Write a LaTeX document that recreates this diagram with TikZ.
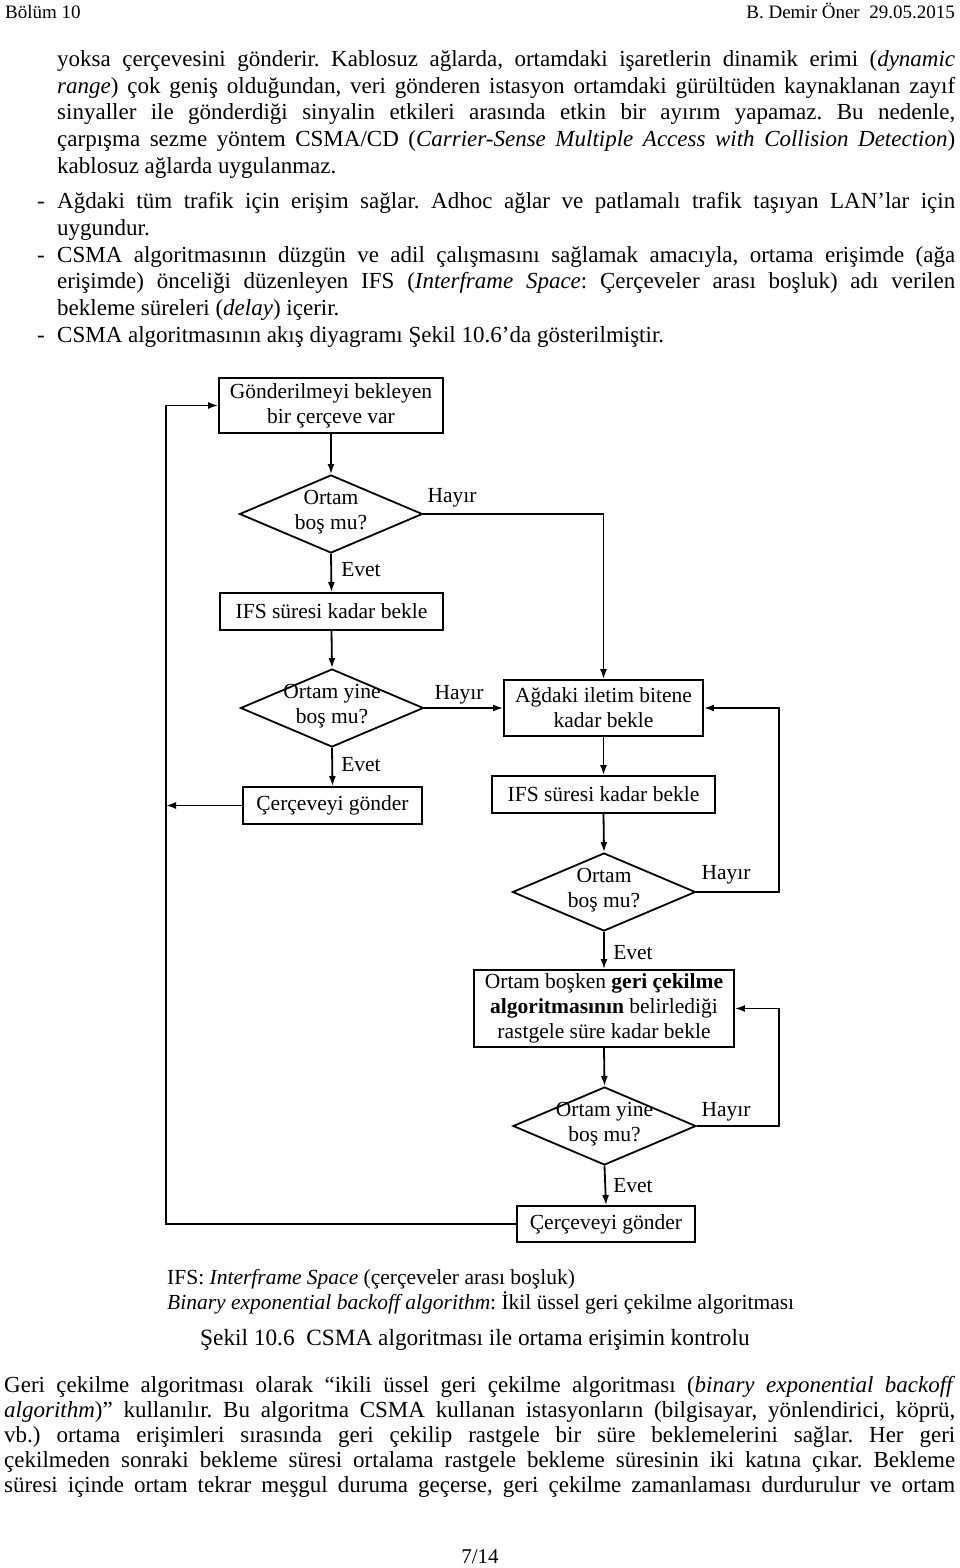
\documentclass[tikz,border=0pt]{standalone}
\usepackage{fontspec}
\setmainfont{Liberation Serif}
\usetikzlibrary{arrows.meta,shapes.geometric}
\frenchspacing
\newcommand\jline[1]{\makebox[898pt][s]{#1}}
\newcommand\bodyfs{\fontsize{23}{26.5}\selectfont}
\newcommand\flowfs{\fontsize{21.5}{25}\selectfont}
\begin{document}
\begin{tikzpicture}[x=1pt,y=-1pt,
  txt/.style={anchor=base west,inner sep=0pt,font=\bodyfs},
  boxn/.style={draw,line width=1.8pt,inner sep=0pt,align=center,font=\flowfs},
  dia/.style={draw,line width=1.8pt,diamond,inner sep=0pt,minimum width=183pt,minimum height=78pt},
  dtext/.style={align=center,inner sep=0pt,font=\flowfs},
  lbl/.style={inner sep=0pt,font=\flowfs},
  arr/.style={line width=1.8pt,-{Latex[length=10pt,width=7pt]}},
  ln/.style={line width=1.8pt}]
\useasboundingbox (0,0) rectangle (960,1568);
\fill[white] (0,0) rectangle (960,1568);

% header
\node[anchor=base west,inner sep=0pt,font=\fontsize{19}{24}\selectfont] (h1) at (5,19) {Bölüm 10};
\node[anchor=base east,inner sep=0pt,font=\fontsize{19}{24}\selectfont] (h2) at (955,19) {B. Demir Öner\ \ 29.05.2015};

% top text
\node[txt] (t1) at (57,67) {\jline{yoksa çerçevesini gönderir. Kablosuz ağlarda, ortamdaki işaretlerin dinamik erimi (\textit{dynamic}}};
\node[txt] (t2) at (57,93.5) {\jline{\textit{range}) çok geniş olduğundan, veri gönderen istasyon ortamdaki gürültüden kaynaklanan zayıf}};
\node[txt] (t3) at (57,120) {\jline{sinyaller ile gönderdiği sinyalin etkileri arasında etkin bir ayırım yapamaz. Bu nedenle,}};
\node[txt] (t4) at (57,146.5) {\jline{çarpışma sezme yöntem CSMA/CD (\textit{Carrier-Sense Multiple Access with Collision Detection})}};
\node[txt] (t5) at (57,173) {kablosuz ağlarda uygulanmaz.};
\node[txt] (d1m) at (37,208) {-};
\node[txt] (t6) at (57,208) {\jline{Ağdaki tüm trafik için erişim sağlar. Adhoc ağlar ve patlamalı trafik taşıyan LAN’lar için}};
\node[txt] (t7) at (57,235) {uygundur.};
\node[txt] (d2m) at (37,262) {-};
\node[txt] (t8) at (57,262) {\jline{CSMA algoritmasının düzgün ve adil çalışmasını sağlamak amacıyla, ortama erişimde (ağa}};
\node[txt] (t9) at (57,288.5) {\jline{erişimde) önceliği düzenleyen IFS (\textit{Interframe Space}: Çerçeveler arası boşluk) adı verilen}};
\node[txt] (t10) at (57,315) {bekleme süreleri (\textit{delay}) içerir.};
\node[txt] (d3m) at (37,342) {-};
\node[txt] (t11) at (57,342) {CSMA algoritmasının akış diyagramı Şekil 10.6’da gösterilmiştir.};

% flowchart nodes
\node[boxn,minimum width=224pt,minimum height=55pt] (b1) at (331,405.5) {Gönderilmeyi bekleyen\\bir çerçeve var};
\node[dia] (d1) at (331,514) {};
\node[dtext] (d1t) at (331,512) {Ortam\\boş mu?};
\node[boxn,minimum width=223pt,minimum height=37pt] (b2) at (331.5,611.5) {IFS süresi kadar bekle};
\node[dia] (d2) at (332,708) {};
\node[dtext] (d2t) at (332,706) {Ortam yine\\boş mu?};
\node[boxn,minimum width=179pt,minimum height=37pt] (b3) at (332.5,805.5) {Çerçeveyi gönder};
\node[boxn,minimum width=199pt,minimum height=56pt] (b4) at (603.5,708) {Ağdaki iletim bitene\\kadar bekle};
\node[boxn,minimum width=223pt,minimum height=37pt] (b5) at (603.5,794.5) {IFS süresi kadar bekle};
\node[dia] (d3) at (604,892) {};
\node[dtext] (d3t) at (604,890) {Ortam\\boş mu?};
\node[boxn,minimum width=260pt,minimum height=77pt] (b6) at (604,1008.5) {Ortam boşken \textbf{geri çekilme}\\\textbf{algoritmasının} belirlediği\\rastgele süre kadar bekle};
\node[dia] (d4) at (604.5,1126) {};
\node[dtext] (d4t) at (604.5,1124) {Ortam yine\\boş mu?};
\node[boxn,minimum width=178pt,minimum height=36pt] (b7) at (606,1224) {Çerçeveyi gönder};

\coordinate (lp) at (166,0);
\coordinate (rp) at (779,0);

% connectors
\draw[arr] (b1.south) -- (d1.north);
\draw[arr] (d1.south) -- (b2.north);
\draw[arr] (d1.east) -| (b4.north);
\draw[arr] (b2.south) -- (d2.north);
\draw[arr] (d2.east) -- (d2.east -| b4.west);
\draw[arr] (d2.south) -- (b3.north);
\draw[arr] (b3.west) -- (b3.west -| lp);
\draw[arr] (b7.west) -- (b7.west -| lp) |- (b1.west);
\draw[arr] (b4.south) -- (b5.north);
\draw[arr] (b5.south) -- (d3.north);
\draw[arr] (d3.east) -- (d3.east -| rp) |- (b4.east);
\draw[arr] (d3.south) -- (b6.north);
\draw[arr] (b6.south) -- (d4.north);
\draw[arr] (d4.east) -- (d4.east -| rp) |- (b6.east);
\draw[arr] (d4.south) -- (b7.north);

% labels
\node[lbl] (l1) at (452,498) {Hayır};
\node[lbl] (l2) at (361,570) {Evet};
\node[lbl] (l3) at (459,695) {Hayır};
\node[lbl] (l4) at (361,765) {Evet};
\node[lbl] (l5) at (726,875) {Hayır};
\node[lbl] (l6) at (633,953) {Evet};
\node[lbl] (l7) at (726,1112) {Hayır};
\node[lbl] (l8) at (633,1186) {Evet};

% legend and caption
\node[anchor=base west,inner sep=0pt,font=\fontsize{21.5}{25}\selectfont] (g1) at (167,1284) {IFS: \textit{Interframe Space} (çerçeveler arası boşluk)};
\node[anchor=base west,inner sep=0pt,font=\fontsize{21.5}{25}\selectfont] (g2) at (167,1309) {\textit{Binary exponential backoff algorithm}: İkil üssel geri çekilme algoritması};
\node[anchor=base west,inner sep=0pt,font=\fontsize{23.3}{26}\selectfont] (cap) at (200,1345) {Şekil 10.6\ \ CSMA algoritması ile ortama erişimin kontrolu};

% bottom text
\node[txt] (u1) at (4,1392) {\makebox[951pt][s]{Geri çekilme algoritması olarak “ikili üssel geri çekilme algoritması (\textit{binary exponential backoff}}};
\node[txt] (u2) at (4,1417) {\makebox[951pt][s]{\textit{algorithm})” kullanılır. Bu algoritma CSMA kullanan istasyonların (bilgisayar, yönlendirici, köprü,}};
\node[txt] (u3) at (4,1442) {\makebox[951pt][s]{vb.) ortama erişimleri sırasında geri çekilip rastgele bir süre beklemelerini sağlar. Her geri}};
\node[txt] (u4) at (4,1467) {\makebox[951pt][s]{çekilmeden sonraki bekleme süresi ortalama rastgele bekleme süresinin iki katına çıkar. Bekleme}};
\node[txt] (u5) at (4,1492) {\makebox[951pt][s]{süresi içinde ortam tekrar meşgul duruma geçerse, geri çekilme zamanlaması durdurulur ve ortam}};
\node[anchor=base,inner sep=0pt,font=\fontsize{21}{25}\selectfont] (pg) at (480,1563) {7/14};
\end{tikzpicture}
\end{document}
